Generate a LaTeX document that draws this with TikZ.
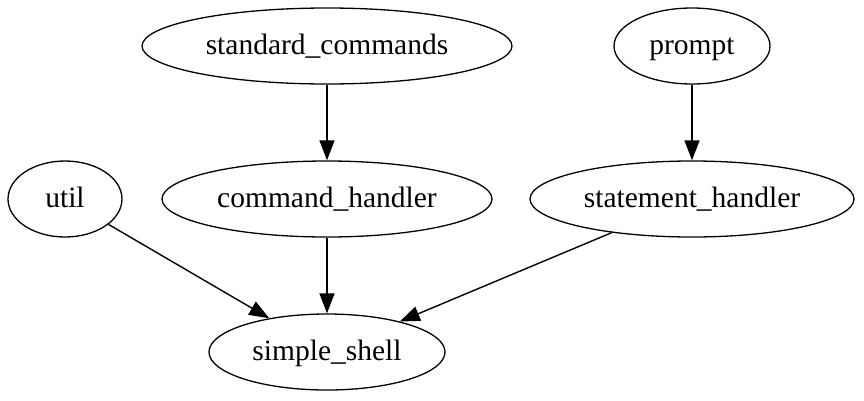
\documentclass[tikz,border=0pt]{standalone}
\usepackage{fontspec}
\setmainfont{Liberation Serif}
\usetikzlibrary{shapes.geometric,arrows.meta}
\begin{document}
\begin{tikzpicture}[x=1pt,y=-1pt,
  mod/.style={draw,ellipse,line width=1.3pt,inner sep=0pt,text height=22pt,text depth=6pt,font=\fontsize{29.5}{35}\selectfont},
  dep/.style={draw,line width=1.4pt,-{Triangle[length=20pt,width=15pt]}}]
\useasboundingbox (0,0) rectangle (864,400);
\node[mod,minimum width=370pt,minimum height=76pt] (std) at (327,46) {standard\_commands};
\node[mod,minimum width=156pt,minimum height=76pt] (prompt) at (692,46) {prompt};
\node[mod,minimum width=114pt,minimum height=76pt] (util) at (65,199) {util};
\node[mod,minimum width=330pt,minimum height=76pt] (cmd) at (327,199) {command\_handler};
\node[mod,minimum width=324pt,minimum height=76pt] (stmt) at (692,199) {statement\_handler};
\node[mod,minimum width=236pt,minimum height=76pt] (shell) at (327,352) {simple\_shell};
\draw[dep] (std) -- (cmd);
\draw[dep] (prompt) -- (stmt);
\draw[dep] (util) -- (shell);
\draw[dep] (cmd) -- (shell);
\draw[dep] (stmt) -- (shell);
\end{tikzpicture}
\end{document}
